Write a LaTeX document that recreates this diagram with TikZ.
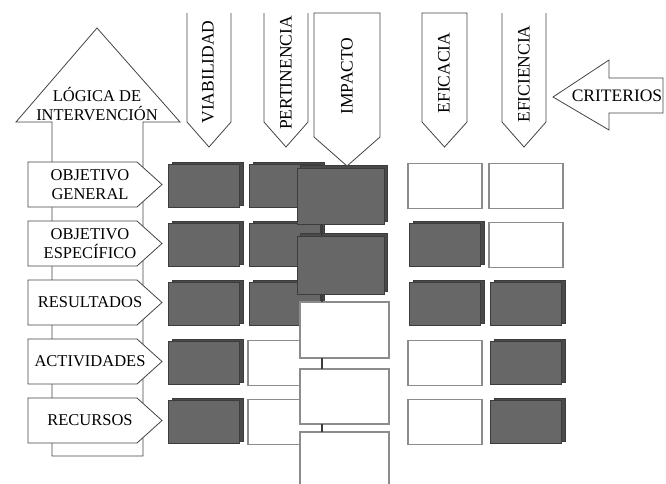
\documentclass[tikz,border=0pt]{standalone}
\usepackage{fontspec}
\setmainfont{Liberation Serif}
\usetikzlibrary{shadows}

\definecolor{cellgray}{HTML}{676767}
\definecolor{celledge}{HTML}{3C3C3C}
\definecolor{cellside}{HTML}{4A4A4A}
\definecolor{boxline}{HTML}{8C8C8C}
\definecolor{inkline}{HTML}{444444}

\tikzset{
    darkcell/.style={draw=celledge, fill=cellgray, line width=0.8pt, inner sep=0pt, outer sep=0pt,
        minimum width=71pt, minimum height=43pt,
        copy shadow={shadow xshift=3.5pt, shadow yshift=2.5pt, fill=cellside, draw=celledge}},
    lightcell/.style={draw=boxline, fill=white, line width=1.3pt, inner sep=0pt, outer sep=0pt,
        minimum width=74pt, minimum height=45pt},
    outline/.style={draw=inkline, fill=white, line width=0.8pt},
    stemline/.style={draw=celledge, line width=1.2pt},
    labeltext/.style={font=\fontsize{16.5}{19.5}\selectfont, text=black, align=center, inner sep=0pt},
    headtext/.style={font=\fontsize{17.5}{20}\selectfont, text=black, rotate=90, inner sep=0pt}
}

\begin{document}
\begin{tikzpicture}[x=1pt, y=-1pt]
    \useasboundingbox (0,0) rectangle (666,483);
    \clip (0,0) rectangle (666,483);

    % Big arrow of the intervention logic, with the levels on top of it.
    \draw[outline] (52,456) -- (52,122) -- (16,122) -- (97,28) -- (180,122) -- (143,122) -- (143,456) -- cycle;
    \node[labeltext] (logica) at (97,104) {LÓGICA DE\\INTERVENCIÓN};
    \foreach \rowtop/\txt [count=\i] in {162/{OBJETIVO\\GENERAL}, 221/{OBJETIVO\\ESPECÍFICO},
            280/RESULTADOS, 339/ACTIVIDADES, 398/RECURSOS}{
        \draw[outline] (28,\rowtop) -- (137,\rowtop) -- (162,\rowtop+22.5) -- (137,\rowtop+45) -- (28,\rowtop+45) -- cycle;
        \node[labeltext] (lab\i) at (90,\rowtop+22.5) {\txt};
    }

    % Cells, one column at a time.
    \foreach \st [count=\r] in {darkcell, darkcell, darkcell, darkcell, darkcell}
        \node[\st] (via\r) at (204,127+59*\r) {};
    \foreach \st [count=\r] in {darkcell, darkcell, darkcell, lightcell, lightcell}
        \node[\st] (per\r) at (285,127+59*\r) {};

    % Impact column: taller boxes, stacked on a thin stem.
    \node[darkcell, minimum width=87pt, minimum height=56pt] (imp1) at (340.5,196) {};
    \node[darkcell, minimum width=87pt, minimum height=58pt] (imp2) at (340.5,265) {};
    \node[lightcell, minimum width=89pt, minimum height=56pt] (imp3) at (344.5,330) {};
    \node[lightcell, minimum width=89pt, minimum height=55pt] (imp4) at (344.5,396.5) {};
    \node[lightcell, minimum width=89pt, minimum height=80pt] (imp5) at (344.5,472) {};
    \coordinate (stem) at (322,0);
    \foreach \a/\b in {1/2, 2/3, 3/4, 4/5}
        \draw[stemline] (imp\a.south -| stem) -- (imp\b.north -| stem);

    \foreach \st [count=\r] in {lightcell, darkcell, darkcell, lightcell, lightcell}
        \node[\st] (efa\r) at (445,127+59*\r) {};
    \foreach \st [count=\r] in {lightcell, lightcell, darkcell, darkcell, darkcell}
        \node[\st] (efi\r) at (526,127+59*\r) {};

    % Criteria pointing down onto their columns.
    \draw[outline] (187,13) -- (187,122) -- (209,147) -- (231,122) -- (231,13);
    \node[headtext] (viab) at (208,72) {VIABILIDAD};
    \draw[outline] (264,13) -- (264,122) -- (286,147) -- (308,122) -- (308,13);
    \node[headtext] (pert) at (286,73) {PERTINENCIA};
    \draw[outline] (314,13) -- (314,137) -- (347,166) -- (380,137) -- (380,13) -- cycle;
    \node[headtext] (impa) at (347,76) {IMPACTO};
    \draw[outline] (422,13) -- (422,122) -- (444.5,147) -- (467,122) -- (467,13) -- cycle;
    \node[headtext] (efca) at (444,73) {EFICACIA};
    \draw[outline] (502,13) -- (502,122) -- (524,147) -- (546,122) -- (546,13);
    \node[headtext] (efcn) at (524,74) {EFICIENCIA};

    \draw[outline] (663,78) -- (609,78) -- (609,60) -- (553,97) -- (609,130) -- (609,113) -- (663,113) -- cycle;
    \node[headtext, rotate=-90] (crit) at (617,96) {CRITERIOS};
\end{tikzpicture}
\end{document}
